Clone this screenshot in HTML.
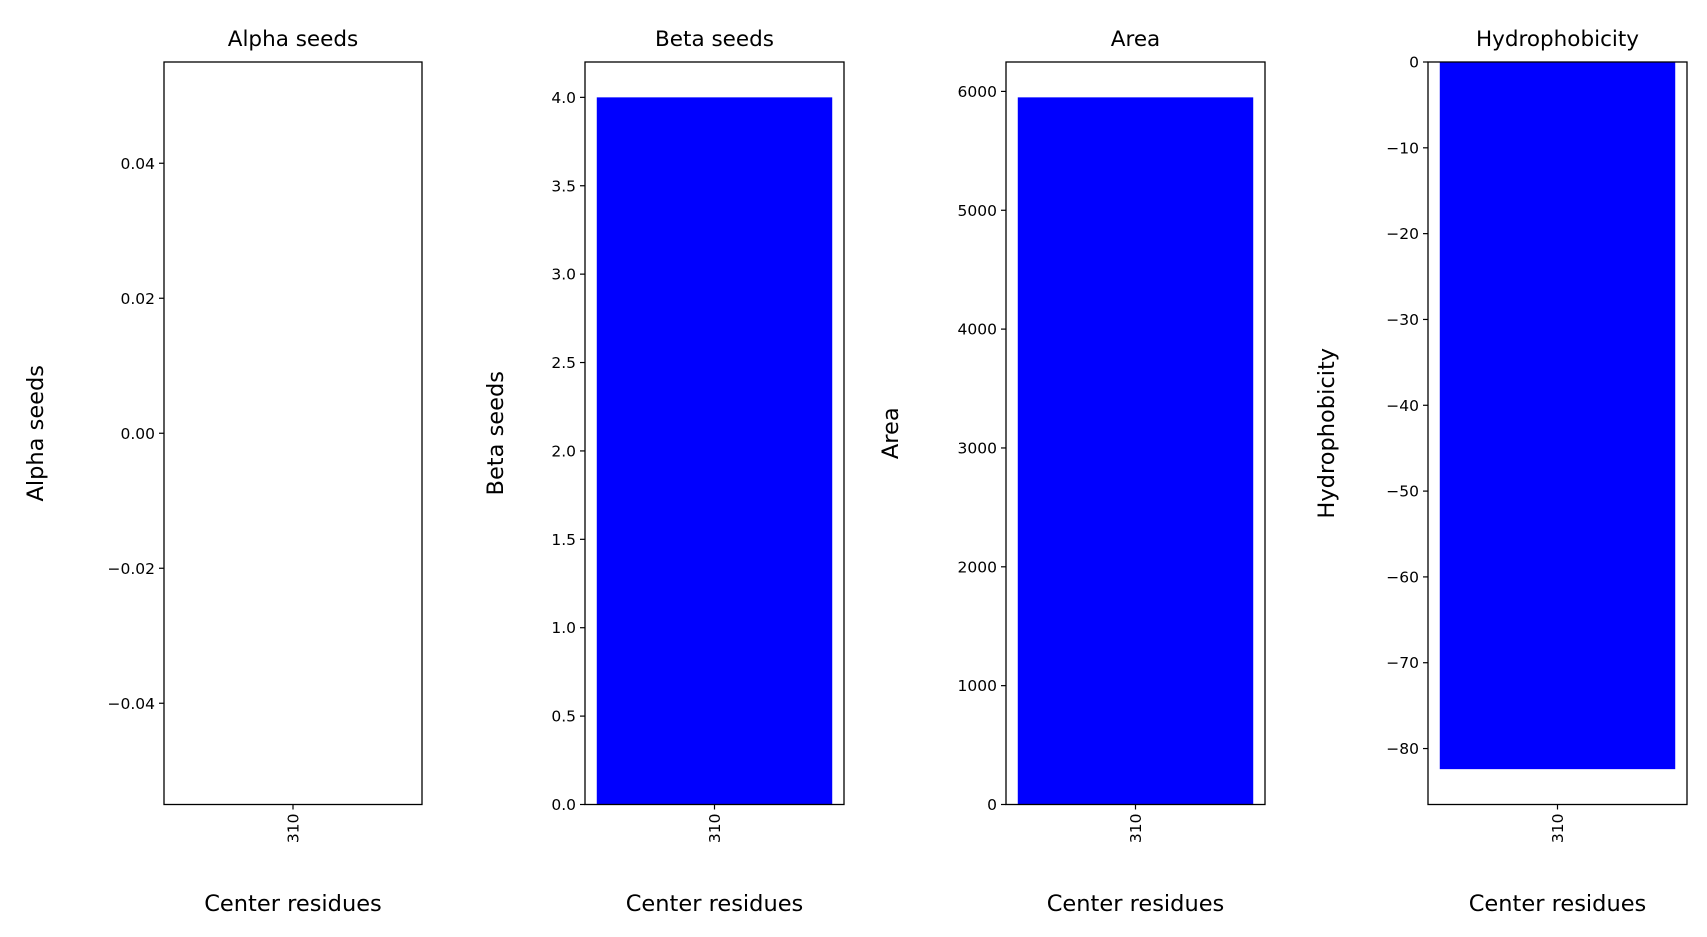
<!DOCTYPE html>
<html><head><meta charset="utf-8"><style>body{margin:0;background:#fff}svg{display:block;font-family:"DejaVu Sans","Liberation Sans",sans-serif}</style></head>
<body>
<svg id="chart" width="1707" height="937" xmlns="http://www.w3.org/2000/svg"></svg>
<script>
const categories = ["310"];
const titles = ["Alpha seeds","Beta seeds","Area","Hydrophobicity"];
const alphaValues = [];
const betaValues = [4.0];
const areaValues = [5950];
const hydroValues = [-82.4];
const alphaTicks = [0.04,0.02,0.00,-0.02,-0.04];
const alphaTickLabels = ["0.04","0.02","0.00","\u22120.02","\u22120.04"];
const betaTicks = [0,0.5,1,1.5,2,2.5,3,3.5,4];
const betaTickLabels = ["0.0","0.5","1.0","1.5","2.0","2.5","3.0","3.5","4.0"];
const areaTicks = [0,1000,2000,3000,4000,5000,6000];
const areaTickLabels = ["0","1000","2000","3000","4000","5000","6000"];
const hydroTicks = [0,-10,-20,-30,-40,-50,-60,-70,-80];
const hydroTickLabels = ["0","\u221210","\u221220","\u221230","\u221240","\u221250","\u221260","\u221270","\u221280"];

(function(){
const svg = document.getElementById('chart');
const NS = "http://www.w3.org/2000/svg";
function mk(tag, attrs, text){const e=document.createElementNS(NS,tag);for(const k in attrs)e.setAttribute(k,attrs[k]);if(text!==undefined)e.textContent=text;svg.appendChild(e);return e;}

const panels = [
 {key:"alpha",left:164,right:422,vals:alphaValues,ticks:alphaTicks,labels:alphaTickLabels,ymin:-0.055,ymax:0.055,ylx:35},
 {key:"beta",left:585,right:844,vals:betaValues,ticks:betaTicks,labels:betaTickLabels,ymin:0,ymax:4.2,ylx:495},
 {key:"area",left:1006,right:1265,vals:areaValues,ticks:areaTicks,labels:areaTickLabels,ymin:0,ymax:6247.5,ylx:890},
 {key:"hydro",left:1428,right:1687,vals:hydroValues,ticks:hydroTicks,labels:hydroTickLabels,ymin:-86.52,ymax:0,ylx:1326}
];
const plotTop=62, plotBottom=804.5;
panels.forEach((p,pi)=>{
  const y = v => plotBottom - (v-p.ymin)/(p.ymax-p.ymin)*(plotBottom-plotTop);
  const xmin=-0.44, xmax=0.44;
  const x = v => p.left + (v-xmin)/(xmax-xmin)*(p.right-p.left);
  p.vals.forEach((v,i)=>{
    const y0=y(0), y1=y(v);
    const r=mk('rect',{x:x(i-0.4),y:Math.min(y0,y1),width:x(i+0.4)-x(i-0.4),height:Math.abs(y1-y0),fill:'#0000ff'});
    
    
  });
  const f=mk('rect',{x:p.left,y:plotTop,width:p.right-p.left,height:plotBottom-plotTop,fill:'none',stroke:'#000','stroke-width':1.3});
  
  
  p.ticks.forEach((t,i)=>{
    const ty=y(t);
    mk('line',{x1:p.left-5,x2:p.left,y1:ty,y2:ty,stroke:'#000','stroke-width':1.2});
    const l=mk('text',{x:p.left-9,y:ty+5.5,'text-anchor':'end','font-size':15.5,fill:'#000'},p.labels[i]);
    
    
  });
  categories.forEach((c,i)=>{
    const cx=x(i);
    mk('line',{x1:cx,x2:cx,y1:plotBottom,y2:plotBottom+5,stroke:'#000','stroke-width':1.2});
    const l=mk('text',{x:0,y:0,'text-anchor':'end','font-size':15.5,fill:'#000',transform:`translate(${cx+5.5},${plotBottom+9}) rotate(-90)`},c);
    
    
  });
  const mid=(p.left+p.right)/2;
  const t=mk('text',{x:mid,y:46,'text-anchor':'middle','font-size':21.5,fill:'#000'},titles[pi]);
  
  
  const xl=mk('text',{x:mid,y:911,'text-anchor':'middle','font-size':22.5,fill:'#000'},'Center residues');
  
  
  const yl=mk('text',{x:0,y:0,'text-anchor':'middle','font-size':22.5,fill:'#000',transform:`translate(${p.ylx+8},${(plotTop+plotBottom)/2}) rotate(-90)`},titles[pi]);
  
  
});
})();
</script>
</body></html>
